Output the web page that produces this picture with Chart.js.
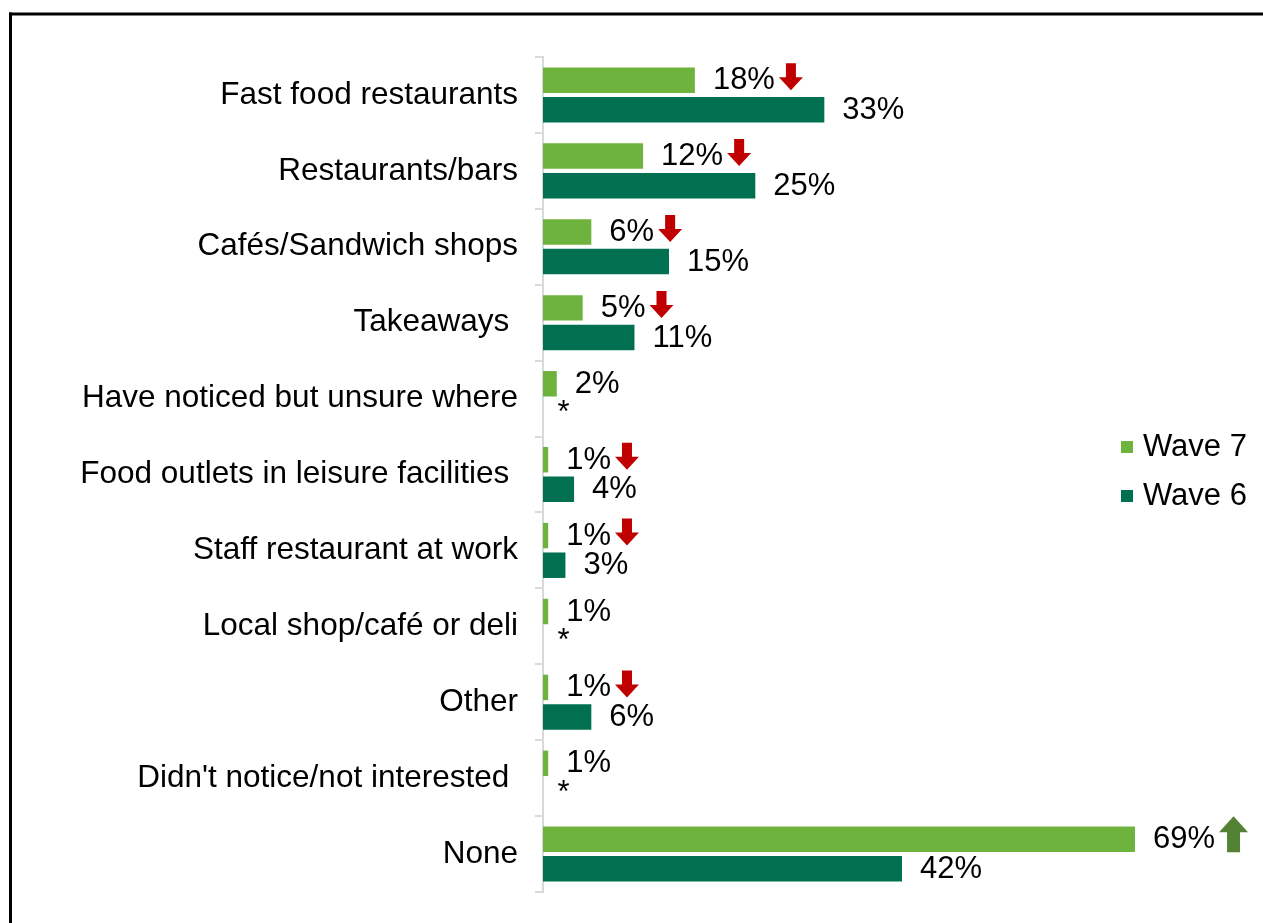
<!DOCTYPE html>
<html>
<head>
<meta charset="utf-8">
<script src="https://cdn.jsdelivr.net/npm/chart.js@4"></script>
<style>
  html, body { margin: 0; padding: 0; background: #fff; overflow: hidden; }
  canvas { display: block; }
</style>
</head>
<body>
<canvas id="chart" width="1263" height="923"></canvas>
<script>
// Where respondents noticed calorie information (% of respondents)
const categories = [
  'Fast food restaurants',
  'Restaurants/bars',
  'Cafés/Sandwich shops',
  'Takeaways ',
  'Have noticed but unsure where',
  'Food outlets in leisure facilities ',
  'Staff restaurant at work',
  'Local shop/café or deli',
  'Other',
  "Didn't notice/not interested ",
  'None'
];
const seriesNames = ['Wave 7', 'Wave 6'];
const wave7 = [18, 12, 6, 5, 2, 1, 1, 1, 1, 1, 69];
// 0 here stands for a result below 0.5%, shown as '*'
const wave6 = [33, 25, 15, 11, 0, 4, 3, 0, 6, 0, 42];
// Significant change of Wave 7 against Wave 6
const wave7Change = ['down', 'down', 'down', 'down', '', 'down', 'down', '', 'down', '', 'up'];

const FONT = '"Liberation Sans", Arial, Helvetica, sans-serif';
const COLORS = ['#6FB33F', '#007050'];

function drawArrow(ctx, dir, x, yc) {
  ctx.save();
  if (dir === 'down') {
    const w = 24, h = 27, shaft = 10, head = 13;
    const top = yc - h / 2;
    ctx.fillStyle = '#C00000';
    ctx.beginPath();
    ctx.moveTo(x + (w - shaft) / 2, top);
    ctx.lineTo(x + (w + shaft) / 2, top);
    ctx.lineTo(x + (w + shaft) / 2, top + h - head);
    ctx.lineTo(x + w, top + h - head);
    ctx.lineTo(x + w / 2, top + h);
    ctx.lineTo(x, top + h - head);
    ctx.lineTo(x + (w - shaft) / 2, top + h - head);
    ctx.closePath();
    ctx.fill();
  } else {
    const w = 29, h = 36, shaft = 13, head = 16;
    const top = yc - h / 2;
    ctx.fillStyle = '#548235';
    ctx.beginPath();
    ctx.moveTo(x + w / 2, top);
    ctx.lineTo(x + w, top + head);
    ctx.lineTo(x + (w + shaft) / 2, top + head);
    ctx.lineTo(x + (w + shaft) / 2, top + h);
    ctx.lineTo(x + (w - shaft) / 2, top + h);
    ctx.lineTo(x + (w - shaft) / 2, top + head);
    ctx.lineTo(x, top + head);
    ctx.closePath();
    ctx.fill();
  }
  ctx.restore();
}

// Black frame along the top and left edge
const framePlugin = {
  id: 'frame',
  beforeDraw(chart) {
    const ctx = chart.ctx;
    ctx.save();
    ctx.fillStyle = '#fff';
    ctx.fillRect(0, 0, chart.width, chart.height);
    ctx.fillStyle = '#000';
    ctx.fillRect(9, 12.5, chart.width - 9, 3);
    ctx.fillRect(9, 12.5, 3, chart.height - 12.5);
    ctx.restore();
  }
};

// Value labels after each bar, with change arrows for Wave 7
const valueLabelPlugin = {
  id: 'valueLabels',
  afterDatasetsDraw(chart) {
    const ctx = chart.ctx;
    ctx.save();
    ctx.font = '31px ' + FONT;
    ctx.textBaseline = 'middle';
    ctx.textAlign = 'left';
    ctx.fillStyle = '#000';
    chart.data.datasets.forEach((ds, di) => {
      const meta = chart.getDatasetMeta(di);
      meta.data.forEach((bar, j) => {
        const v = ds.data[j];
        const txt = v === 0 ? '*' : v + '%';
        const x = bar.x + 18;
        ctx.fillText(txt, x, bar.y + 0.5);
        if (di === 0 && wave7Change[j]) {
          const w = ctx.measureText(txt).width;
          const dir = wave7Change[j];
          drawArrow(ctx, dir, x + w + 4, bar.y - (dir === 'up' ? 5 : 3.5));
        }
      });
    });
    ctx.restore();
  }
};

// Legend at the right, vertically centred
const legendPlugin = {
  id: 'sideLegend',
  afterDraw(chart) {
    const ctx = chart.ctx;
    ctx.save();
    ctx.font = '31px ' + FONT;
    ctx.textBaseline = 'middle';
    ctx.textAlign = 'left';
    chart.data.datasets.forEach((ds, i) => {
      const y = 447 + i * 49;
      ctx.fillStyle = ds.backgroundColor;
      ctx.fillRect(1121, y - 6, 12, 12);
      ctx.fillStyle = '#000';
      ctx.fillText(ds.label, 1143, y);
    });
    ctx.restore();
  }
};

new Chart(document.getElementById('chart'), {
  type: 'bar',
  data: {
    labels: categories,
    datasets: [
      { label: seriesNames[0], data: wave7, backgroundColor: COLORS[0],
        categoryPercentage: 0.78, barPercentage: 0.86, clip: 0 },
      { label: seriesNames[1], data: wave6, backgroundColor: COLORS[1],
        categoryPercentage: 0.78, barPercentage: 0.86, clip: 0 }
    ]
  },
  options: {
    indexAxis: 'y',
    responsive: false,
    animation: false,
    devicePixelRatio: 1,
    layout: { padding: { top: 57, bottom: 31, left: 0, right: 36 } },
    plugins: {
      legend: { display: false },
      tooltip: { enabled: false }
    },
    scales: {
      x: { display: false, min: 0.4, max: 79.66 },
      y: {
        grid: {
          offset: true,
          drawOnChartArea: false,
          drawTicks: true,
          tickLength: 8,
          color: '#d9d9d9',
          lineWidth: 2
        },
        border: { display: true, color: '#d9d9d9', width: 2 },
        ticks: { color: '#000', font: { family: FONT, size: 31.5 }, padding: 17 },
        afterFit(scale) {
          scale.width = 543;
          scale.paddingTop = 0;
          scale.paddingBottom = 0;
        }
      }
    }
  },
  plugins: [framePlugin, valueLabelPlugin, legendPlugin]
});
</script>
</body>
</html>
